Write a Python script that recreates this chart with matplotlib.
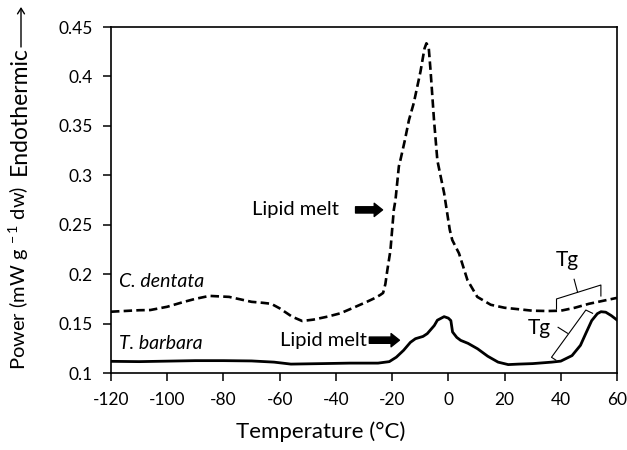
import matplotlib
matplotlib.use("Agg")
import matplotlib.pyplot as plt
import numpy as np

plt.rcParams['font.family'] = ['Lato', 'DejaVu Sans']
plt.rcParams['mathtext.fontset'] = 'custom'
plt.rcParams['mathtext.rm'] = 'Lato'

# ---- data ----
cd_T = [-120, -110, -106, -100, -94, -90, -85, -78, -70, -66, -63, -60, -55.6, -52,
        -48, -43, -38.4, -33.8, -29, -26, -24.2, -23.2, -22.4, -21.7, -20.6, -19.4,
        -18.8, -17.6, -17.0, -15.5, -14.0, -12.3, -9.9, -8.5, -7.8, -7.0, -6.3, -5.1,
        -3.9, -1.5, 0.5, 1.4, 3.8, 6.8, 10.3, 15.1, 20, 25, 30, 35.3, 40, 45, 50, 55, 60]
cd_P = [0.162, 0.1635, 0.1637, 0.167, 0.172, 0.175, 0.178, 0.177, 0.172, 0.171, 0.170,
        0.1654, 0.157, 0.1526, 0.154, 0.157, 0.1604, 0.166, 0.172, 0.176, 0.179, 0.181,
        0.190, 0.204, 0.224, 0.265, 0.275, 0.309, 0.316, 0.335, 0.356, 0.373, 0.405,
        0.428, 0.4335, 0.430, 0.405, 0.356, 0.315, 0.282, 0.245, 0.2345, 0.221, 0.194,
        0.177, 0.169, 0.166, 0.1645, 0.163, 0.1627, 0.163, 0.166, 0.170, 0.173, 0.176]

tb_T = [-120, -110, -100, -90, -80, -70, -62, -56, -45, -35, -25, -21, -18.5, -15.9,
        -13.5, -11.7, -9, -7.5, -5, -3.9, -1.5, 0, 0.9, 1.5, 3, 4.4, 7, 10.4, 14, 17.7,
        21.3, 25, 30, 36.8, 40, 44, 47, 48.9, 51, 53, 54.3, 56, 58, 60]
tb_P = [0.1118, 0.1115, 0.112, 0.1125, 0.1125, 0.1122, 0.111, 0.109, 0.1095, 0.110,
        0.110, 0.1115, 0.116, 0.123, 0.131, 0.1347, 0.137, 0.1398, 0.148, 0.1534, 0.157,
        0.1555, 0.153, 0.1415, 0.136, 0.133, 0.130, 0.1245, 0.117, 0.111, 0.1085, 0.109,
        0.1095, 0.111, 0.112, 0.1176, 0.128, 0.140, 0.153, 0.160, 0.162, 0.1615, 0.158,
        0.1536]

x_ticks = [-120, -100, -80, -60, -40, -20, 0, 20, 40, 60]
y_ticks = [0.1, 0.15, 0.2, 0.25, 0.3, 0.35, 0.4, 0.45]
y_tick_labels = ["0.1", "0.15", "0.2", "0.25", "0.3", "0.35", "0.4", "0.45"]

# annotation brackets (data coords)
tg1_T = [38.48, 38.48, 54.27, 54.27]
tg1_P = [0.1647, 0.1749, 0.1890, 0.1779]
tg1_tick_T = [45.96, 44.75]
tg1_tick_P = [0.1819, 0.1948]
tg2_T = [38.23, 36.70, 48.92, 51.31]
tg2_P = [0.1131, 0.1159, 0.1637, 0.1604]
tg2_tick_T = [42.40, 39.05]
tg2_tick_P = [0.1402, 0.1462]

fig = plt.figure(figsize=(6.27, 4.5), dpi=100)
W, H = 627, 450
ax = fig.add_axes([111 / W, 1 - 373 / H, (617 - 111) / W, (373 - 27) / H])

ax.plot(cd_T, cd_P, color='black', lw=1.9, linestyle=(0, (3.2, 1.6)),
        dash_capstyle='butt')
ax.plot(tb_T, tb_P, color='black', lw=2.0, solid_joinstyle='round')

ax.set_xlim(-120, 60)
ax.set_ylim(0.1, 0.45)
ax.set_xticks(x_ticks)
ax.set_xticklabels([str(t) for t in x_ticks])
ax.set_yticks(y_ticks)
ax.set_yticklabels(y_tick_labels)
ax.tick_params(axis='both', direction='out', length=6, width=1.1,
               labelsize=12.5, color='black')
ax.tick_params(axis='y', pad=7)
ax.tick_params(axis='x', pad=8)
for s in ax.spines.values():
    s.set_linewidth(1.2)
    s.set_color('black')

# text annotations
ann_fs = 14
ax.text(-117.2, 0.1924, "C. dentata", style='italic', fontsize=ann_fs, va='center', ha='left')
ax.text(-117.2, 0.1303, "T. barbara", style='italic', fontsize=ann_fs, va='center', ha='left')
ax.text(-39.1, 0.2650, "Lipid melt", fontsize=14.5, va='center', ha='right')
ax.text(-29.0, 0.1332, "Lipid melt", fontsize=14.5, va='center', ha='right')
ax.text(42.4, 0.2143, "Tg", fontsize=15, va='center', ha='center')
ax.text(32.3, 0.1452, "Tg", fontsize=15, va='center', ha='center')

arrow_style = 'simple,head_length=0.6,head_width=0.95,tail_width=0.45'
ax.annotate('', xy=(-23.4, 0.2650), xytext=(-33.0, 0.2650),
            arrowprops=dict(arrowstyle=arrow_style, color='black', mutation_scale=10,
                            shrinkA=0, shrinkB=0))
ax.annotate('', xy=(-17.4, 0.1332), xytext=(-28.1, 0.1332),
            arrowprops=dict(arrowstyle=arrow_style, color='black', mutation_scale=10,
                            shrinkA=0, shrinkB=0))

ax.plot(tg1_T, tg1_P, color='black', lw=0.8)
ax.plot(tg1_tick_T, tg1_tick_P, color='black', lw=0.8)
ax.plot(tg2_T, tg2_P, color='black', lw=0.8)
ax.plot(tg2_tick_T, tg2_tick_P, color='black', lw=0.8)

# axis labels
fig.text(321 / W, 1 - 432 / H, "Temperature (°C)", fontsize=16, ha='center', va='center')
fig.text(19 / W, 1 - 278 / H, "Power (mW g$^{\\,-1}$ dw)", fontsize=14.5, rotation=90,
         ha='center', va='center')
fig.text(19 / W, 1 - 111 / H, "Endothermic", fontsize=16.5, rotation=90,
         ha='center', va='center')
fig.add_artist(matplotlib.patches.FancyArrowPatch(
    (21 / W, 1 - 47 / H), (21 / W, 1 - 7 / H), transform=fig.transFigure,
    arrowstyle='->,head_length=4,head_width=2.5', color='black', lw=1.0,
    shrinkA=0, shrinkB=0))

fig.savefig("out.png", dpi=100)
